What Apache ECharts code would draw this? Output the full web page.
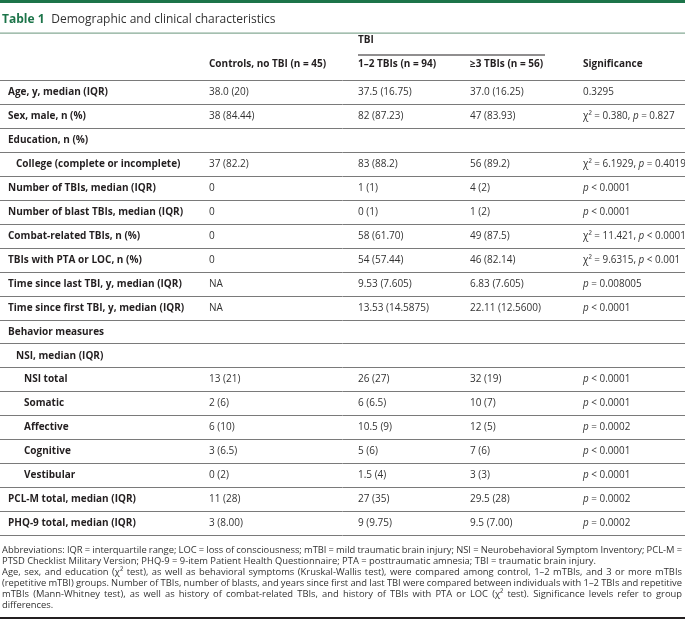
<!DOCTYPE html>
<html><head><meta charset="utf-8">
<script src="https://cdn.jsdelivr.net/npm/echarts@6/dist/echarts.min.js"></script>
<style>html,body{margin:0;padding:0;background:#fff}#c{width:685px;height:620px}</style>
</head><body><div id="c"></div>
<script>
// ---- data ----
const titleNum = 'Table 1';
const titleText = 'Demographic and clinical characteristics';
const groupHeader = 'TBI';
const columnHeaders = ['Controls, no TBI (n = 45)', '1–2 TBIs (n = 94)', '≥3 TBIs (n = 56)', 'Significance'];
const rowLabels = ['Age, y, median (IQR)', 'Sex, male, n (%)', 'Education, n (%)', 'College (complete or incomplete)',
  'Number of TBIs, median (IQR)', 'Number of blast TBIs, median (IQR)', 'Combat-related TBIs, n (%)',
  'TBIs with PTA or LOC, n (%)', 'Time since last TBI, y, median (IQR)', 'Time since first TBI, y, median (IQR)',
  'Behavior measures', 'NSI, median (IQR)', 'NSI total', 'Somatic', 'Affective', 'Cognitive', 'Vestibular',
  'PCL-M total, median (IQR)', 'PHQ-9 total, median (IQR)'];
const rowLevel = [0, 0, 0, 1, 0, 0, 0, 0, 0, 0, 0, 1, 2, 2, 2, 2, 2, 0, 0];
const controls = ['38.0 (20)', '38 (84.44)', '', '37 (82.2)', '0', '0', '0', '0', 'NA', 'NA', '', '',
  '13 (21)', '2 (6)', '6 (10)', '3 (6.5)', '0 (2)', '11 (28)', '3 (8.00)'];
const tbi12 = ['37.5 (16.75)', '82 (87.23)', '', '83 (88.2)', '1 (1)', '0 (1)', '58 (61.70)', '54 (57.44)',
  '9.53 (7.605)', '13.53 (14.5875)', '', '', '26 (27)', '6 (6.5)', '10.5 (9)', '5 (6)', '1.5 (4)', '27 (35)', '9 (9.75)'];
const tbi3 = ['37.0 (16.25)', '47 (83.93)', '', '56 (89.2)', '4 (2)', '1 (2)', '49 (87.5)', '46 (82.14)',
  '6.83 (7.605)', '22.11 (12.5600)', '', '', '32 (19)', '10 (7)', '12 (5)', '7 (6)', '3 (3)', '29.5 (28)', '9.5 (7.00)'];
const significance = ['0.3295', 'χ² = 0.380, p = 0.827', '', 'χ² = 6.1929, p = 0.4019', 'p < 0.0001', 'p < 0.0001',
  'χ² = 11.421, p < 0.0001', 'χ² = 9.6315, p < 0.001', 'p = 0.008005', 'p < 0.0001', '', '',
  'p < 0.0001', 'p < 0.0001', 'p = 0.0002', 'p < 0.0001', 'p < 0.0001', 'p = 0.0002', 'p = 0.0002'];
const footLines = [
  'Abbreviations: IQR = interquartile range; LOC = loss of consciousness; mTBI = mild traumatic brain injury; NSI = Neurobehavioral Symptom Inventory; PCL-M =',
  'PTSD Checklist Military Version; PHQ-9 = 9-item Patient Health Questionnaire; PTA = posttraumatic amnesia; TBI = traumatic brain injury.',
  'Age, sex, and education (χ² test), as well as behavioral symptoms (Kruskal-Wallis test), were compared among control, 1–2 mTBIs, and 3 or more mTBIs',
  '(repetitive mTBI) groups. Number of TBIs, number of blasts, and years since first and last TBI were compared between individuals with 1–2 TBIs and repetitive',
  'mTBIs (Mann-Whitney test), as well as history of combat-related TBIs, and history of TBIs with PTA or LOC (χ² test). Significance levels refer to group',
  'differences.'];
const footJustify = [true, false, true, true, true, false];

// ---- layout ----
const FONT = '"Open Sans", "Noto Sans", sans-serif';
const GREEN = '#1c7449';
const colX = [209, 358, 470, 583];
const labelX = 8, indentStep = 8;
const FS = 10, SFS = 9.9, FFS = 9.4;
const gridTop = 80.7, gridBottom = 620 - 535;

function richSig(s) { return s.replace(/\bp\b/g, '{i|p}'); }
const richStyles = { i: { fontStyle: 'italic', fontFamily: FONT, fontSize: SFS, fill: '#333', color: '#333' } };

const mc = document.createElement('canvas').getContext('2d');
function tw(t, size) { mc.font = size + 'px ' + FONT; return mc.measureText(t).width; }

const graphics = [];
graphics.push({ type: 'rect', shape: { x: 0, y: 0, width: 685, height: 3 }, style: { fill: GREEN } });
graphics.push({ type: 'text', x: 2, y: 20, style: {
  text: '{g|' + titleNum + '}  {n|' + titleText + '}', verticalAlign: 'middle',
  rich: { g: { fill: GREEN, fontWeight: 'bold', fontSize: 12, fontFamily: FONT },
          n: { fill: '#333', fontSize: 12, fontFamily: FONT } } } });
graphics.push({ type: 'rect', shape: { x: 0, y: 32.5, width: 685, height: 1.3 }, style: { fill: '#86aa95' } });
graphics.push({ type: 'text', x: colX[1], y: 40, style: { text: groupHeader, fontWeight: 'bold', fontSize: FS, fontFamily: FONT, fill: '#231f20', verticalAlign: 'middle' } });
graphics.push({ type: 'rect', shape: { x: colX[1], y: 54.5, width: 187, height: 1 }, style: { fill: '#231f20' } });
columnHeaders.forEach((h, k) => graphics.push({ type: 'text', x: colX[k], y: 64,
  style: { text: h, fontWeight: 'bold', fontSize: FS, fontFamily: FONT, fill: '#231f20', verticalAlign: 'middle' } }));

// footnote (justified lines built word by word)
const footTop = 550, footStep = 11, footLeft = 2, footRight = 682;
footLines.forEach((line, li) => {
  const y = footTop + li * footStep;
  const words = line.split(' ');
  const txt = (t, x) => ({ type: 'text', x: x, y: y,
    style: { text: t, fontSize: FFS, fontFamily: FONT, fill: '#333', verticalAlign: 'middle' } });
  if (footJustify[li]) {
    const widths = words.map(w => tw(w, FFS));
    const total = widths.reduce((a, b) => a + b, 0);
    const gap = Math.max(1.2, (footRight - footLeft - total) / (words.length - 1));
    let x = footLeft;
    words.forEach((w, wi) => { graphics.push(txt(w, x)); x += widths[wi] + gap; });
  } else {
    graphics.push(txt(line, footLeft));
  }
});
graphics.push({ type: 'rect', shape: { x: 0, y: 617, width: 685, height: 2 }, style: { fill: '#231f20' } });

const chart = echarts.init(document.getElementById('c'), null, { renderer: 'canvas' });
chart.setOption({
  animation: false,
  grid: { left: 0, right: 0, top: gridTop, bottom: gridBottom },
  xAxis: { type: 'value', min: 0, max: 685, show: false },
  yAxis: { type: 'category', inverse: true, data: rowLabels, boundaryGap: true,
    axisLine: { show: false }, axisTick: { show: false }, axisLabel: { show: false },
    splitLine: { show: true, interval: 0, lineStyle: { color: '#7a7a7a', width: 1 } } },
  graphic: graphics,
  series: [{
    type: 'custom',
    data: rowLabels.map((l, i) => [0, i]),
    renderItem: function (params, api) {
      const i = params.dataIndex;
      const y = api.coord([0, i])[1];
      const cells = [controls[i], tbi12[i], tbi3[i], significance[i]];
      const children = [{
        type: 'text', x: api.coord([labelX + rowLevel[i] * indentStep, i])[0], y: y,
        style: { text: rowLabels[i], fontWeight: 'bold', fontSize: FS, fontFamily: FONT, fill: '#231f20', verticalAlign: 'middle' }
      }];
      cells.forEach((c, k) => {
        if (!c) return;
        children.push({ type: 'text', x: api.coord([colX[k], i])[0], y: y,
          style: { text: k === 3 ? richSig(c) : c, fontSize: k === 3 ? SFS : FS, fontFamily: FONT, fill: '#333', verticalAlign: 'middle', rich: richStyles } });
      });
      return { type: 'group', children: children };
    }
  }]
});
</script></body></html>
